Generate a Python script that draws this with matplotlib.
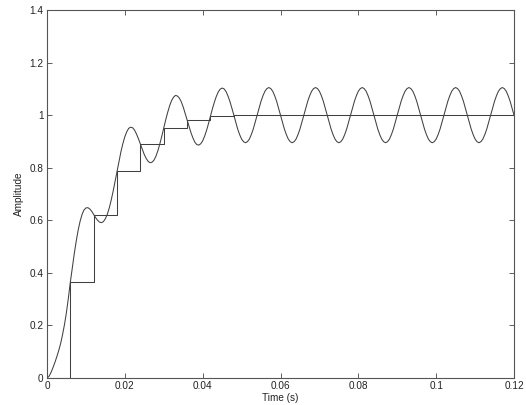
import numpy as np
import matplotlib
matplotlib.use("Agg")
import matplotlib.pyplot as plt

# ---- data ----
sample_period = 0.006
curve_step = 0.0005

# sampled (zero-order-hold) output values at t = 0, 0.006, ..., 0.12
sampled_output = [0.000, 0.365, 0.622, 0.789, 0.890, 0.951, 0.982, 0.996,
                  1.000, 1.000, 1.000, 1.000, 1.000, 1.000, 1.000, 1.000,
                  1.000, 1.000, 1.000, 1.000, 1.000]

# continuous response, one value every 0.0005 s from 0 to 0.12 s
continuous_output = [
    0.000, 0.006, 0.020, 0.038, 0.058, 0.080, 0.104, 0.131, 0.165, 0.204, 0.250, 0.305,
    0.365, 0.420, 0.472, 0.520, 0.562, 0.596, 0.622, 0.639, 0.647, 0.648, 0.643, 0.634,
    0.622, 0.610, 0.600, 0.593, 0.591, 0.595, 0.606, 0.623, 0.647, 0.677, 0.711, 0.749,
    0.789, 0.826, 0.861, 0.892, 0.918, 0.937, 0.950, 0.954, 0.952, 0.943, 0.928, 0.910,
    0.890, 0.869, 0.850, 0.835, 0.824, 0.819, 0.821, 0.829, 0.844, 0.865, 0.891, 0.920,
    0.951, 0.982, 1.010, 1.035, 1.055, 1.068, 1.075, 1.073, 1.065, 1.051, 1.031, 1.007,
    0.982, 0.957, 0.933, 0.913, 0.897, 0.888, 0.886, 0.891, 0.902, 0.920, 0.942, 0.968,
    0.996, 1.024, 1.049, 1.071, 1.088, 1.099, 1.103, 1.100, 1.090, 1.073, 1.052, 1.027,
    1.000, 0.973, 0.947, 0.926, 0.909, 0.899, 0.895, 0.899, 0.909, 0.926, 0.947, 0.973,
    1.000, 1.027, 1.053, 1.074, 1.091, 1.101, 1.105, 1.101, 1.091, 1.074, 1.053, 1.027,
    1.000, 0.973, 0.947, 0.926, 0.909, 0.899, 0.895, 0.899, 0.909, 0.926, 0.947, 0.973,
    1.000, 1.027, 1.053, 1.074, 1.091, 1.101, 1.105, 1.101, 1.091, 1.074, 1.053, 1.027,
    1.000, 0.973, 0.947, 0.926, 0.909, 0.899, 0.895, 0.899, 0.909, 0.926, 0.947, 0.973,
    1.000, 1.027, 1.053, 1.074, 1.091, 1.101, 1.105, 1.101, 1.091, 1.074, 1.053, 1.027,
    1.000, 0.973, 0.947, 0.926, 0.909, 0.899, 0.895, 0.899, 0.909, 0.926, 0.947, 0.973,
    1.000, 1.027, 1.053, 1.074, 1.091, 1.101, 1.105, 1.101, 1.091, 1.074, 1.053, 1.027,
    1.000, 0.973, 0.947, 0.926, 0.909, 0.899, 0.895, 0.899, 0.909, 0.926, 0.947, 0.973,
    1.000, 1.027, 1.053, 1.074, 1.091, 1.101, 1.105, 1.101, 1.091, 1.074, 1.053, 1.027,
    1.000, 0.973, 0.947, 0.926, 0.909, 0.899, 0.895, 0.899, 0.909, 0.926, 0.947, 0.973,
    1.000, 1.027, 1.053, 1.074, 1.091, 1.101, 1.105, 1.101, 1.091, 1.074, 1.053, 1.027,
    1.000,
]

x_ticks = [0, 0.02, 0.04, 0.06, 0.08, 0.1, 0.12]
x_tick_labels = ["0", "0.02", "0.04", "0.06", "0.08", "0.1", "0.12"]
y_ticks = [0, 0.2, 0.4, 0.6, 0.8, 1.0, 1.2, 1.4]
y_tick_labels = ["0", "0.2", "0.4", "0.6", "0.8", "1", "1.2", "1.4"]

# ---- plotting ----
plt.rcParams["font.family"] = ["Liberation Sans", "DejaVu Sans"]

fig = plt.figure(figsize=(5.26, 4.05), dpi=100)
ax = fig.add_axes([47 / 526, 27 / 405, 467 / 526, 368 / 405])

t_curve = np.arange(len(continuous_output)) * curve_step
t_samples = np.arange(len(sampled_output)) * sample_period

line_color = "#404040"
ax.plot(t_curve, continuous_output, color=line_color, lw=0.75)
ax.step(t_samples, sampled_output, where="post", color=line_color, lw=0.75)

ax.set_xlim(0, 0.12)
ax.set_ylim(0, 1.4)
ax.set_xticks(x_ticks)
ax.set_xticklabels(x_tick_labels)
ax.set_yticks(y_ticks)
ax.set_yticklabels(y_tick_labels)

ax.tick_params(direction="in", length=3.6, width=0.6, colors="#444444",
               labelcolor="#222222", labelsize=7.2, pad=2.5,
               top=True, right=True)
for s in ax.spines.values():
    s.set_color("#555555")
    s.set_linewidth(0.8)

ax.set_xlabel("Time (s)", fontsize=7.2, color="#222222", labelpad=1.2)
ax.set_ylabel("Amplitude", fontsize=7.2, color="#222222", labelpad=4)

fig.savefig("out.png", dpi=100, facecolor="white")
